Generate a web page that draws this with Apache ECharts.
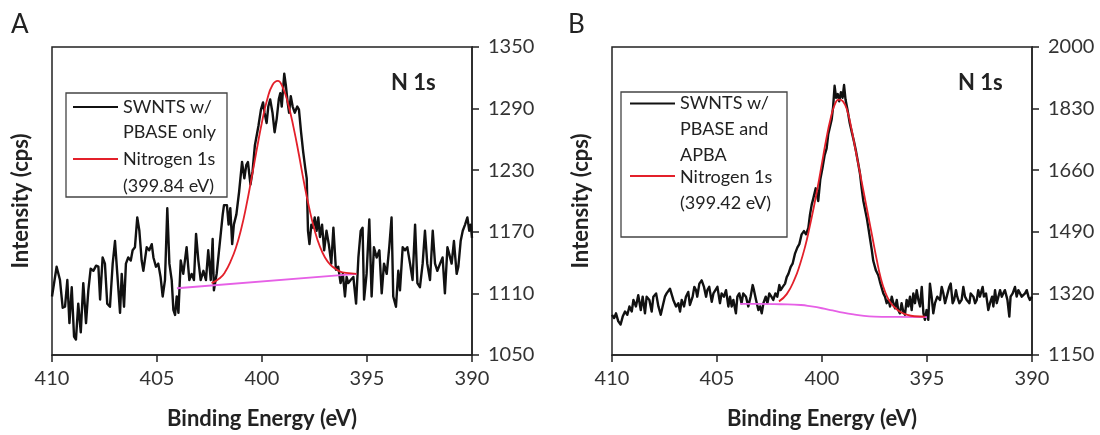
<!DOCTYPE html>
<html><head><meta charset="utf-8">
<script src="https://cdn.jsdelivr.net/npm/echarts@6/dist/echarts.min.js"></script>
<style>html,body{margin:0;padding:0;background:#fff}#c{width:1100px;height:435px}</style>
</head><body><div id="c"></div>
<script>
// ---------- Panel A data ----------
const energyA = [410.00,409.78,409.62,409.49,409.38,409.27,409.17,409.06,408.95,408.86,408.75,408.63,408.51,408.38,408.27,408.16,408.03,407.90,407.79,407.71,407.59,407.48,407.37,407.24,407.11,407.00,406.89,406.76,406.68,406.57,406.48,406.37,406.25,406.16,406.05,405.94,405.84,405.73,405.65,405.49,405.37,405.25,405.17,405.05,404.94,404.83,404.73,404.62,404.51,404.41,404.30,404.22,404.14,404.06,403.98,403.87,403.75,403.59,403.46,403.35,403.24,403.14,403.03,402.92,402.79,402.67,402.56,402.44,402.35,402.29,402.16,402.00,401.87,401.81,401.67,401.59,401.51,401.42,401.34,401.22,401.09,400.95,400.84,400.75,400.67,400.55,400.45,400.34,400.17,400.05,399.95,399.88,399.78,399.70,399.61,399.50,399.40,399.30,399.20,399.13,399.06,398.94,398.86,398.78,398.71,398.63,398.54,398.44,398.32,398.24,398.14,398.04,397.94,397.87,397.81,397.74,397.65,397.57,397.49,397.40,397.32,397.24,397.14,397.04,396.93,396.82,396.70,396.60,396.48,396.37,396.26,396.15,396.05,395.97,395.89,395.78,395.65,395.52,395.41,395.30,395.21,395.14,395.02,394.89,394.78,394.67,394.54,394.41,394.30,394.19,394.06,393.94,393.83,393.75,393.62,393.51,393.43,393.30,393.19,393.08,392.95,392.83,392.71,392.60,392.48,392.35,392.24,392.13,392.00,391.87,391.76,391.65,391.52,391.40,391.29,391.17,391.08,390.97,390.86,390.73,390.65,390.54,390.44,390.33,390.22,390.13,390.06,390.00];
const countsA = [1107,1136,1123,1096,1097,1123,1081,1116,1068,1065,1100,1072,1120,1081,1113,1134,1132,1137,1136,1104,1145,1139,1100,1097,1139,1161,1129,1091,1129,1097,1139,1145,1142,1152,1155,1184,1171,1142,1132,1155,1152,1158,1145,1136,1139,1126,1107,1123,1193,1139,1123,1094,1089,1107,1091,1142,1129,1155,1123,1129,1123,1168,1142,1123,1132,1123,1152,1123,1163,1113,1129,1161,1187,1196,1196,1177,1193,1158,1177,1187,1209,1238,1222,1235,1238,1216,1229,1254,1273,1289,1296,1286,1276,1292,1299,1286,1267,1280,1299,1305,1292,1324,1312,1296,1286,1302,1292,1286,1292,1289,1267,1248,1232,1222,1171,1158,1177,1174,1184,1171,1184,1165,1177,1152,1171,1158,1139,1174,1133,1136,1120,1129,1107,1126,1120,1123,1126,1100,1145,1171,1174,1104,1129,1182,1107,1155,1145,1152,1110,1139,1129,1155,1184,1107,1097,1132,1113,1155,1152,1155,1139,1123,1177,1120,1116,1139,1171,1139,1123,1171,1139,1132,1139,1145,1110,1155,1148,1139,1161,1129,1136,1161,1171,1177,1184,1171,1177,1164];
const fitEnergyA = [402.40,402.00,401.75,401.50,401.25,401.00,400.75,400.50,400.25,400.00,399.75,399.50,399.25,399.00,398.75,398.50,398.25,398.00,397.75,397.50,397.25,397.00,396.75,396.50,396.25,396.00,395.50];
const fitCountsA = [1120,1125,1131,1141,1154,1172,1195,1222,1250,1277,1299,1313,1317,1310,1294,1272,1246,1218,1193,1172,1156,1145,1138,1134,1131,1130,1129];
const baseEnergyA = [404.05,395.50];
const baseCountsA = [1115,1129];
const yTicksA = [1050,1110,1170,1230,1290,1350];

// ---------- Panel B data ----------
const energyB = [410.00,409.90,409.81,409.70,409.59,409.49,409.38,409.27,409.17,409.06,408.98,408.86,408.75,408.63,408.54,408.43,408.35,408.22,408.11,408.03,407.90,407.79,407.68,407.59,407.48,407.40,407.32,407.24,407.16,407.08,406.95,406.84,406.76,406.68,406.57,406.48,406.37,406.29,406.16,406.08,406.00,405.94,405.84,405.73,405.62,405.52,405.46,405.37,405.25,405.17,405.10,404.98,404.86,404.78,404.67,404.57,404.46,404.38,404.30,404.22,404.10,404.03,403.94,403.83,403.75,403.62,403.51,403.40,403.30,403.24,403.14,403.03,402.95,402.87,402.79,402.68,402.60,402.51,402.41,402.32,402.22,402.13,402.03,401.97,401.87,401.76,401.68,401.60,401.49,401.40,401.29,401.17,401.08,400.97,400.86,400.76,400.65,400.57,400.49,400.41,400.30,400.18,400.08,399.98,399.88,399.78,399.70,399.62,399.54,399.47,399.40,399.33,399.25,399.18,399.10,399.02,398.95,398.88,398.78,398.68,398.58,398.48,398.38,398.28,398.19,398.11,398.03,397.87,397.79,397.71,397.63,397.56,397.43,397.32,397.24,397.16,397.08,397.00,396.92,396.83,396.76,396.68,396.60,396.52,396.44,396.37,396.29,396.21,396.13,396.05,395.97,395.89,395.81,395.73,395.65,395.57,395.49,395.41,395.33,395.25,395.17,395.10,395.02,394.94,394.86,394.78,394.70,394.62,394.51,394.38,394.30,394.22,394.14,394.06,393.94,393.87,393.78,393.71,393.62,393.56,393.46,393.35,393.27,393.19,393.11,392.98,392.92,392.79,392.71,392.63,392.56,392.48,392.35,392.29,392.19,392.08,392.00,391.90,391.84,391.76,391.68,391.60,391.52,391.44,391.37,391.29,391.17,391.08,391.02,390.92,390.81,390.73,390.65,390.57,390.49,390.41,390.33,390.25,390.17,390.10,390.00];
const countsB = [1261,1252,1265,1243,1234,1256,1270,1261,1284,1270,1302,1284,1315,1274,1311,1265,1311,1302,1270,1311,1320,1284,1261,1284,1311,1320,1324,1333,1338,1302,1284,1293,1270,1302,1284,1311,1324,1288,1311,1338,1329,1311,1347,1356,1338,1311,1329,1338,1297,1320,1315,1338,1293,1320,1311,1329,1284,1311,1284,1302,1265,1311,1320,1293,1320,1311,1284,1311,1343,1329,1302,1274,1284,1265,1293,1311,1293,1320,1311,1302,1320,1311,1343,1329,1338,1347,1365,1374,1393,1402,1429,1447,1456,1483,1492,1483,1501,1538,1565,1583,1610,1575,1635,1665,1700,1720,1760,1755,1800,1835,1893,1860,1870,1850,1875,1860,1895,1855,1825,1790,1765,1740,1712,1680,1650,1610,1575,1529,1500,1470,1440,1410,1383,1370,1352,1336,1320,1311,1293,1302,1284,1311,1293,1279,1302,1274,1265,1293,1270,1261,1302,1284,1311,1274,1320,1293,1329,1302,1284,1338,1265,1247,1274,1247,1347,1311,1265,1293,1311,1302,1338,1320,1293,1311,1338,1347,1293,1302,1329,1311,1293,1302,1338,1311,1302,1293,1320,1311,1293,1302,1329,1311,1338,1311,1320,1274,1293,1311,1284,1329,1293,1311,1329,1311,1320,1329,1302,1256,1311,1320,1338,1311,1329,1320,1311,1311,1320,1329,1311,1302,1311];
const fitEnergyB = [402.05,401.68,401.30,401.05,400.80,400.60,400.40,400.20,400.00,399.80,399.60,399.40,399.20,399.00,398.80,398.60,398.40,398.20,398.00,397.80,397.60,397.40,397.20,397.00,396.80,396.60,396.30,396.00,395.60,395.10];
const fitCountsB = [1298,1318,1360,1400,1450,1500,1555,1615,1680,1745,1800,1840,1855,1850,1825,1775,1715,1655,1595,1535,1475,1415,1362,1325,1300,1285,1270,1262,1257,1256];
const baseEnergyB = [403.90,403.00,402.00,401.00,400.50,400.00,399.50,399.00,398.50,398.00,397.50,396.50,395.00];
const baseCountsB = [1291,1291,1290,1288,1284,1279,1273,1267,1262,1258,1256,1255,1254.5];
const yTicksB = [1150,1320,1490,1660,1830,2000];

const xTicks = [390,395,400,405,410];
const seriesNames = ['SWNTS w/ PBASE only','Nitrogen 1s (399.84 eV)','SWNTS w/ PBASE and APBA','Nitrogen 1s (399.42 eV)'];

// ---------- build ----------
const zip = (xs, ys) => xs.map((x, i) => [x, ys[i]]);
const FONT = 'Lato, "Open Sans", sans-serif';
const INK = '#222';
const chart = echarts.init(document.getElementById('c'), null, {renderer: 'canvas'});

function xAxis(g) {
  return {
    gridIndex: g, type: 'value', min: xTicks[0], max: xTicks[xTicks.length - 1], interval: 5, inverse: true,
    axisLine: {show: true, lineStyle: {color: INK, width: 1.5}},
    axisTick: {show: true, length: 7, lineStyle: {color: INK, width: 1.5}},
    axisLabel: {color: '#333', fontSize: 20, fontFamily: FONT, margin: 14, formatter: v => String(v)},
    splitLine: {show: false},
    name: 'Binding Energy (eV)', nameLocation: 'middle', nameGap: 53,
    nameTextStyle: {color: INK, fontSize: 22, fontWeight: 'bold', fontFamily: FONT}
  };
}
function yAxisRight(g, ticks) {
  return {
    gridIndex: g, type: 'value', position: 'right', min: ticks[0], max: ticks[ticks.length - 1],
    axisLine: {show: true, lineStyle: {color: INK, width: 1.5}},
    axisTick: {show: true, length: 7, customValues: ticks, lineStyle: {color: INK, width: 1.5}},
    axisLabel: {color: '#333', fontSize: 20, fontFamily: FONT, margin: 16, customValues: ticks, formatter: v => String(v)},
    splitLine: {show: false}
  };
}
function yAxisLeft(g, ticks) {
  return {
    gridIndex: g, type: 'value', position: 'left', min: ticks[0], max: ticks[ticks.length - 1],
    axisLine: {show: false}, axisTick: {show: false}, axisLabel: {show: false}, splitLine: {show: false},
    name: 'Intensity (cps)', nameLocation: 'middle', nameGap: 20,
    nameTextStyle: {color: INK, fontSize: 22, fontWeight: 'bold', fontFamily: FONT}
  };
}
function lineSeries(name, data, xi, yi, color, width, z, smooth) {
  return {name, type: 'line', xAxisIndex: xi, yAxisIndex: yi, data, showSymbol: false, smooth: smooth || false,
    lineStyle: {color, width, join: 'round'}, itemStyle: {color}, z, animation: false, silent: true};
}

function legendGraphic(box, lines, entries) {
  const els = [{type: 'rect', shape: box, style: {fill: '#fff', stroke: '#444', lineWidth: 1.3}, z: 100}];
  lines.forEach(l => els.push({type: 'line', shape: {x1: l.x1, y1: l.y, x2: l.x2, y2: l.y}, style: {stroke: l.c, lineWidth: 2}, z: 101}));
  entries.forEach(t => els.push({type: 'text', x: t.x, y: t.y, style: {text: t.s, fill: INK, font: '18px ' + FONT, verticalAlign: 'middle'}, z: 101}));
  return els;
}

const graphics = [].concat(
  [{type: 'text', x: 11, y: 25, style: {text: 'A', fill: INK, font: '26px ' + FONT, verticalAlign: 'middle'}},
   {type: 'text', x: 568, y: 25, style: {text: 'B', fill: INK, font: '26px ' + FONT, verticalAlign: 'middle'}},
   {type: 'text', x: 391, y: 83, style: {text: 'N 1s', fill: INK, font: 'bold 22px ' + FONT, verticalAlign: 'middle'}},
   {type: 'text', x: 958, y: 83, style: {text: 'N 1s', fill: INK, font: 'bold 22px ' + FONT, verticalAlign: 'middle'}}],
  legendGraphic({x: 66, y: 93, width: 161, height: 104},
    [{x1: 73, x2: 118, y: 107, c: '#111'}, {x1: 73, x2: 118, y: 159, c: '#e3202a'}],
    [{x: 123, y: 107, s: 'SWNTS w/'}, {x: 123, y: 132, s: 'PBASE only'}, {x: 123, y: 159, s: 'Nitrogen 1s'}, {x: 123, y: 186, s: '(399.84 eV)'}]),
  legendGraphic({x: 621, y: 92, width: 166, height: 145},
    [{x1: 630, x2: 675, y: 103.5, c: '#111'}, {x1: 630, x2: 675, y: 176, c: '#e3202a'}],
    [{x: 680, y: 103.5, s: 'SWNTS w/'}, {x: 680, y: 129, s: 'PBASE and'}, {x: 680, y: 155.5, s: 'APBA'}, {x: 680, y: 177, s: 'Nitrogen 1s'}, {x: 680, y: 203, s: '(399.42 eV)'}])
);

chart.setOption({
  animation: false,
  backgroundColor: '#fff',
  textStyle: {fontFamily: FONT},
  grid: [
    {left: 52, top: 47, width: 420, height: 312, show: true, borderColor: INK, borderWidth: 1.5, backgroundColor: 'transparent'},
    {left: 612, top: 47, width: 420, height: 312, show: true, borderColor: INK, borderWidth: 1.5, backgroundColor: 'transparent'}
  ],
  xAxis: [xAxis(0), xAxis(1)],
  yAxis: [yAxisRight(0, yTicksA), yAxisLeft(0, yTicksA), yAxisRight(1, yTicksB), yAxisLeft(1, yTicksB)],
  series: [
    lineSeries(seriesNames[0], zip(energyA, countsA), 0, 0, '#111', 2.4, 2),
    lineSeries('Background A', zip(baseEnergyA, baseCountsA), 0, 0, '#e660e6', 1.8, 3),
    lineSeries(seriesNames[1], zip(fitEnergyA, fitCountsA), 0, 0, '#e3202a', 1.8, 4, true),
    lineSeries(seriesNames[2], zip(energyB, countsB), 1, 2, '#111', 2.4, 2),
    lineSeries('Background B', zip(baseEnergyB, baseCountsB), 1, 2, '#e660e6', 1.8, 3, true),
    lineSeries(seriesNames[3], zip(fitEnergyB, fitCountsB), 1, 2, '#e3202a', 1.8, 4, true)
  ],
  graphic: graphics
});
</script></body></html>
